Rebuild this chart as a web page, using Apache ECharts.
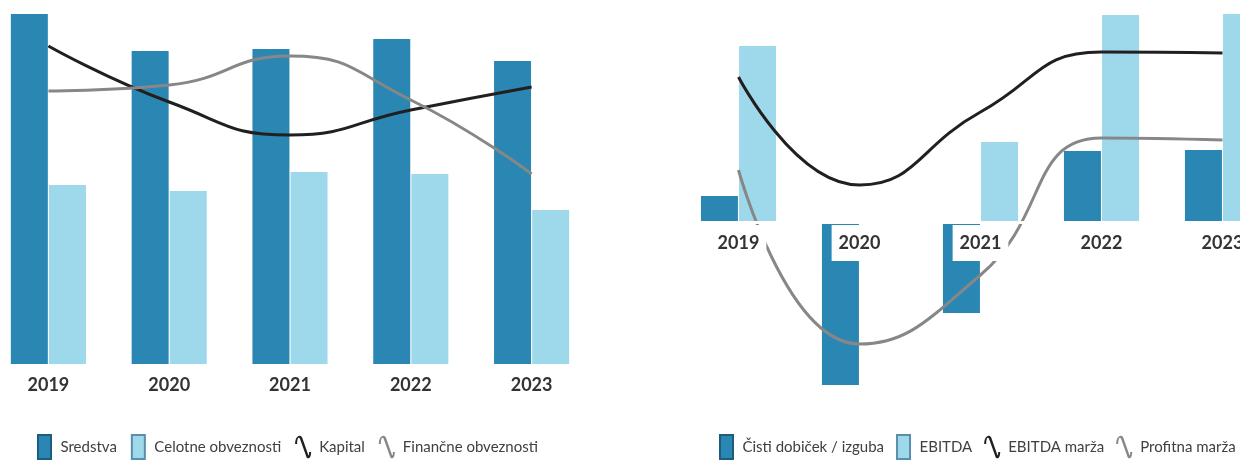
<!DOCTYPE html>
<html>
<head>
<meta charset="utf-8">
<script src="https://cdn.jsdelivr.net/npm/echarts@6/dist/echarts.min.js"></script>
<style>
html,body{margin:0;padding:0;background:#fff;}
#c{width:1240px;height:460px;}
</style>
</head>
<body>
<div id="c"></div>
<script>
// ---- data (arbitrary units) ----
const years = ['2019', '2020', '2021', '2022', '2023'];
// left panel
const sredstva = [350, 313, 315, 325, 303];
const celotneObveznosti = [179, 173, 192, 190, 154];
const kapital = [318, 262, 229, 254, 277];
const financneObveznosti = [273, 279, 308, 264, 190];
// right panel
const cistiDobicek = [26, -163, -91, 71, 72];
const ebitda = [176, 1, 80, 207, 208];
const ebitdaMarza = [145, 37, 110, 170, 169];
const profitnaMarza = [52, -122, -53, 84, 82];

const DARK = '#2a86b2';
const LIGHT = '#9dd8eb';
const BLACK = '#231f20';
const GREY = '#878787';
const WAVE = 'path://M0,9 C0,1 5,-1 7,2.5 L13,19.5 C13.5,21 14,21 14,17 L16,17 C16,24.5 11.8,25 10.8,20.5 L4.8,3.8 C3.8,1.8 2,2.5 2,9 Z';
const BOX = 'path://M0,0 L13,0 L13,24 L0,24 Z';

const labelStyle = {
  fontFamily: 'Lato', fontSize: 18, fontWeight: 'bold', color: '#333333',
  backgroundColor: '#ffffff', padding: [9, 7, 9, 7], margin: 3
};
const legendText = {fontFamily: 'Lato', fontSize: 15, color: '#404040', padding: [0, 0, 0, 3]};

const chart = echarts.init(document.getElementById('c'), null, {renderer: 'canvas'});
chart.setOption({
  animation: false,
  backgroundColor: '#ffffff',
  grid: [
    {left: -12, top: 0, width: 604, height: 364, outerBoundsMode: 'none', containLabel: false},
    {left: 678, top: 0, width: 605, height: 444, outerBoundsMode: 'none', containLabel: false}
  ],
  xAxis: [
    {type: 'category', gridIndex: 0, data: years, z: 10,
     axisLine: {show: false}, axisTick: {show: false}, splitLine: {show: false},
     axisLabel: labelStyle},
    {type: 'category', gridIndex: 1, data: years, z: 10, offset: -222,
     axisLine: {show: true, onZero: false, lineStyle: {color: '#ffffff', width: 3}},
     axisTick: {show: false}, splitLine: {show: false},
     axisLabel: labelStyle}
  ],
  yAxis: [
    {type: 'value', gridIndex: 0, min: 0, max: 364, show: false},
    {type: 'value', gridIndex: 1, min: -222, max: 222, show: false}
  ],
  legend: [
    {left: 32, top: 429, width: 600, itemWidth: 16, itemHeight: 24, itemGap: 14, z: 20,
     symbolKeepAspect: true, textStyle: legendText,
     data: [
       {name: 'Sredstva', icon: BOX, itemStyle: {color: DARK, borderColor: '#1d5c7c', borderWidth: 2}},
       {name: 'Celotne obveznosti', icon: BOX, itemStyle: {color: LIGHT, borderColor: '#5b8ea8', borderWidth: 2}},
       {name: 'Kapital', icon: WAVE, itemStyle: {color: BLACK, borderWidth: 0}},
       {name: 'Finančne obveznosti', icon: WAVE, itemStyle: {color: GREY, borderWidth: 0}}
     ]},
    {left: 714, top: 429, width: 600, itemWidth: 16, itemHeight: 24, itemGap: 12, z: 20,
     symbolKeepAspect: true, textStyle: legendText,
     data: [
       {name: 'Čisti dobiček / izguba', icon: BOX, itemStyle: {color: DARK, borderColor: '#1d5c7c', borderWidth: 2}},
       {name: 'EBITDA', icon: BOX, itemStyle: {color: LIGHT, borderColor: '#5b8ea8', borderWidth: 2}},
       {name: 'EBITDA marža', icon: WAVE, itemStyle: {color: BLACK, borderWidth: 0}},
       {name: 'Profitna marža', icon: WAVE, itemStyle: {color: GREY, borderWidth: 0}}
     ]}
  ],
  series: [
    {name: 'Sredstva', type: 'bar', xAxisIndex: 0, yAxisIndex: 0, data: sredstva,
     barWidth: 37, barGap: '3%', itemStyle: {color: DARK}},
    {name: 'Celotne obveznosti', type: 'bar', xAxisIndex: 0, yAxisIndex: 0, data: celotneObveznosti,
     barWidth: 37, barGap: '3%', itemStyle: {color: LIGHT}},
    {name: 'Kapital', type: 'line', xAxisIndex: 0, yAxisIndex: 0, data: kapital,
     smooth: 0.5, symbol: 'none', itemStyle: {color: BLACK}, lineStyle: {color: BLACK, width: 3}},
    {name: 'Finančne obveznosti', type: 'line', xAxisIndex: 0, yAxisIndex: 0, data: financneObveznosti,
     smooth: 0.5, symbol: 'none', itemStyle: {color: GREY}, lineStyle: {color: GREY, width: 3}},

    {name: 'Čisti dobiček / izguba', type: 'bar', xAxisIndex: 1, yAxisIndex: 1, data: cistiDobicek,
     barWidth: 37, barGap: '3%', itemStyle: {color: DARK}},
    {name: 'EBITDA', type: 'bar', xAxisIndex: 1, yAxisIndex: 1, data: ebitda,
     barWidth: 37, barGap: '3%', itemStyle: {color: LIGHT}},
    {name: 'EBITDA marža', type: 'line', xAxisIndex: 1, yAxisIndex: 1, data: ebitdaMarza,
     smooth: 0.5, symbol: 'none', itemStyle: {color: BLACK}, lineStyle: {color: BLACK, width: 3}},
    {name: 'Profitna marža', type: 'line', xAxisIndex: 1, yAxisIndex: 1, data: profitnaMarza,
     smooth: 0.5, symbol: 'none', itemStyle: {color: GREY}, lineStyle: {color: GREY, width: 3}}
  ]
});
</script>
</body>
</html>
